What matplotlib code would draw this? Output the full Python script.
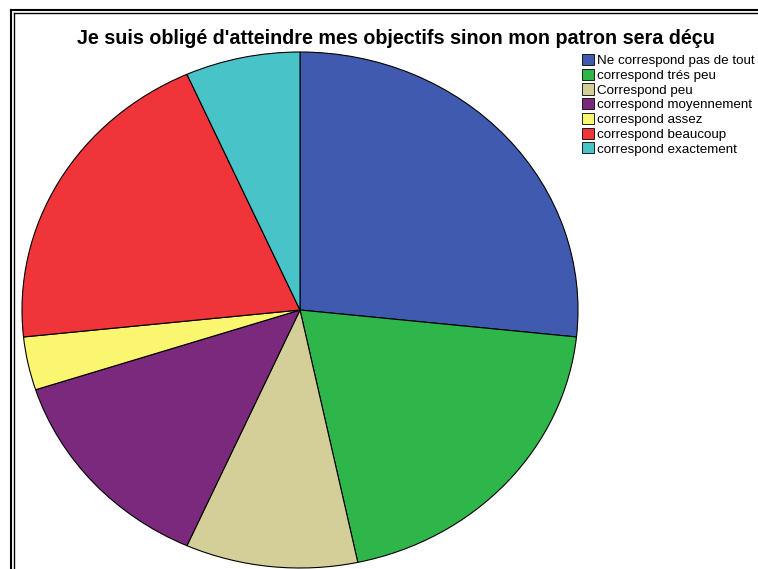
import matplotlib.pyplot as plt
from matplotlib.lines import Line2D
from matplotlib.patches import Patch

plt.rcParams['font.family'] = ['Liberation Sans', 'DejaVu Sans']

# counts per answer
labels = ["Ne correspond pas de tout", "correspond trés peu", "Correspond peu",
          "correspond moyennement", "correspond assez", "correspond beaucoup",
          "correspond exactement"]
counts = [8, 6, 3, 4, 1, 6, 2]
colors = ["#3f5aae", "#2fb64b", "#d4cf98", "#7b297d", "#fbf66f", "#ef343a", "#48c3c8"]

fig = plt.figure(figsize=(7.58, 5.69), dpi=100)

# pie axes: ellipse, wider than tall
ax = fig.add_axes([22/758, 1/569, 556/758, 516/569])
ax.pie(counts, colors=colors, startangle=90, counterclock=False,
       wedgeprops=dict(edgecolor="black", linewidth=0.8))
ax.set_aspect('auto')
ax.set_xlim(-1, 1)
ax.set_ylim(-1, 1)
ax.axis('off')

fig.text(396/758, 1 - 38/569, "Je suis obligé d'atteindre mes objectifs sinon mon patron sera déçu",
         ha='center', va='center', fontsize=14.2, fontweight='bold')

handles = [Patch(facecolor=c, edgecolor='black', linewidth=0.6) for c in colors]
fig.legend(handles, labels, loc='upper left', bbox_to_anchor=(582/758, 1 - 54/569),
           frameon=False, fontsize=9.6, handlelength=0.9, handleheight=0.9,
           handletextpad=0.2, labelspacing=0.12, borderpad=0, borderaxespad=0)

# double frame around the chart (left and top edges visible)
fig.add_artist(Line2D([11/758, 11/758], [0, 1 - 10/569], color='black', lw=1.5))
fig.add_artist(Line2D([14/758, 14/758], [0, 1 - 13/569], color='black', lw=1))
fig.add_artist(Line2D([11/758, 1], [1 - 10/569, 1 - 10/569], color='black', lw=1.5))
fig.add_artist(Line2D([14/758, 1], [1 - 13/569, 1 - 13/569], color='black', lw=1))

fig.savefig("out.png", dpi=100)
